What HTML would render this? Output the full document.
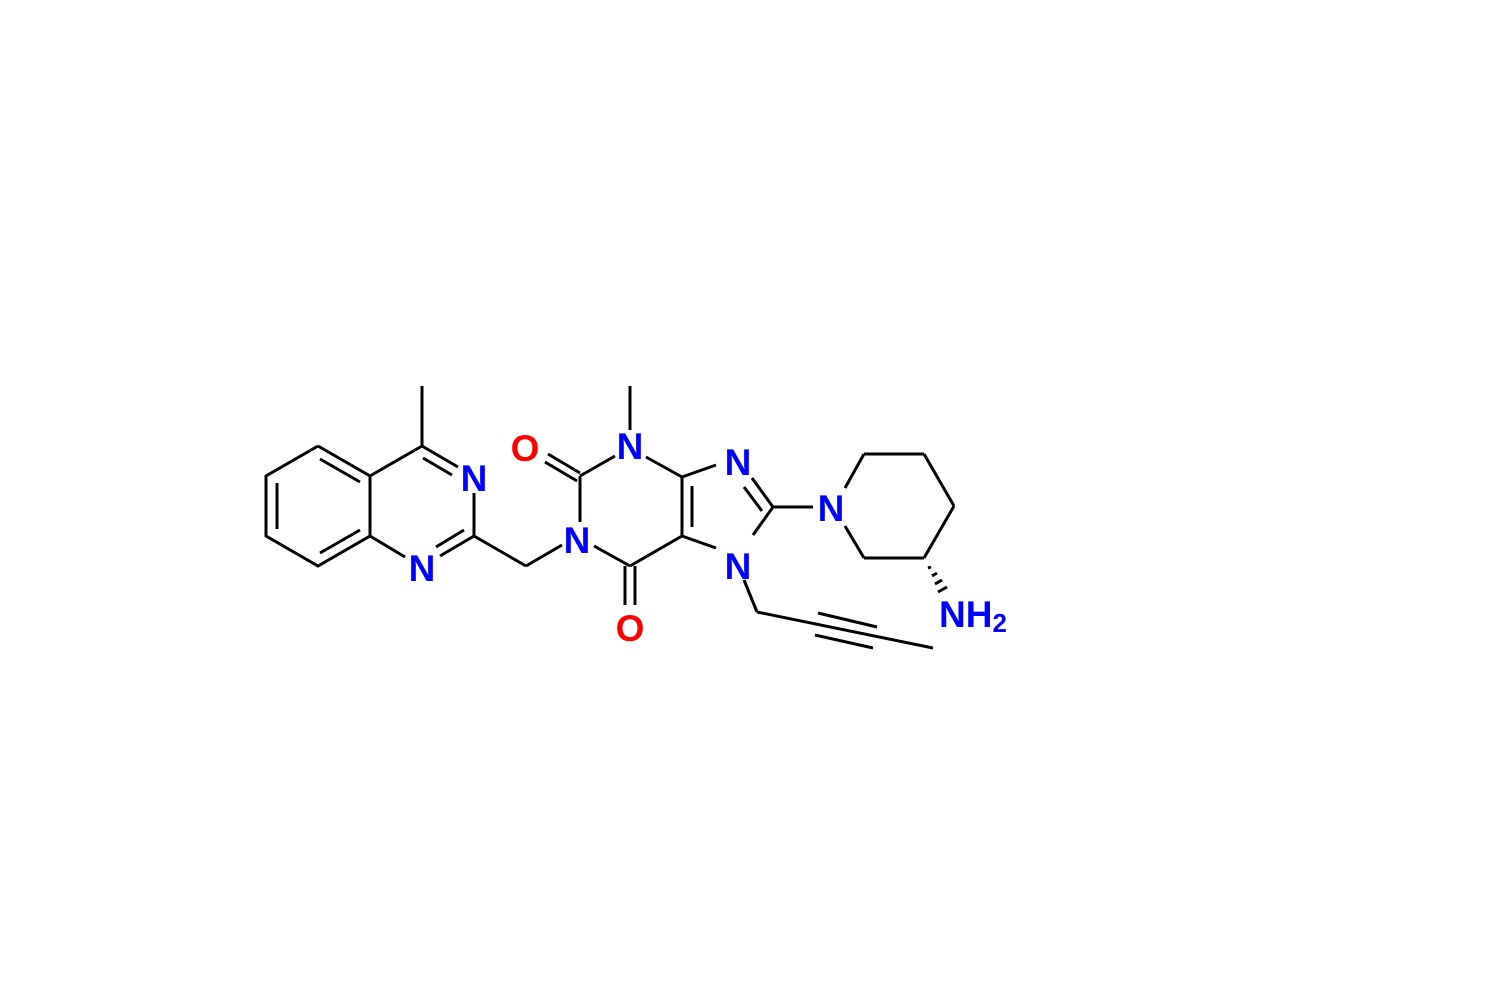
<!DOCTYPE html>
<html><head><meta charset="utf-8"><style>html,body{margin:0;padding:0;background:#fff}svg{display:block}
.t{font-family:"Liberation Sans",Arial,sans-serif;font-weight:bold;font-size:37px;text-anchor:middle}</style></head>
<body>
<svg width="1489" height="998" viewBox="0 0 1489 998" xmlns="http://www.w3.org/2000/svg">
<g stroke="#000" stroke-width="3" fill="none" stroke-linecap="butt">
<polyline points="318,446 370,476 370,536 318,566 266,536 266,476 318,446"/>
<line x1="277" y1="483" x2="277" y2="529"/>
<line x1="320" y1="459" x2="360" y2="482"/>
<line x1="320" y1="553" x2="360" y2="530"/>
<line x1="370" y1="476" x2="422" y2="446"/>
<line x1="422" y1="446" x2="458" y2="467"/>
<line x1="423" y1="458" x2="452" y2="475"/>
<line x1="474" y1="493" x2="474" y2="536"/>
<line x1="474" y1="536" x2="440" y2="556"/>
<line x1="464" y1="530" x2="436" y2="547"/>
<line x1="370" y1="536" x2="405" y2="557"/>
<line x1="422" y1="446" x2="422" y2="386"/>
<line x1="474" y1="536" x2="526" y2="566"/>
<line x1="526" y1="566" x2="562" y2="545"/>
<line x1="580" y1="522" x2="580" y2="476"/>
<line x1="580" y1="476" x2="615" y2="456"/>
<line x1="580" y1="473" x2="548" y2="454"/>
<line x1="577" y1="481" x2="545" y2="462"/>
<line x1="630" y1="430" x2="630" y2="386"/>
<line x1="646" y1="457" x2="682" y2="477"/>
<line x1="682" y1="477" x2="682" y2="536"/>
<line x1="692" y1="486" x2="692" y2="527"/>
<line x1="682" y1="536" x2="630" y2="566"/>
<line x1="630" y1="566" x2="594" y2="546"/>
<line x1="625" y1="566" x2="625" y2="605"/>
<line x1="635" y1="566" x2="635" y2="605"/>
<line x1="682" y1="477" x2="716" y2="465"/>
<line x1="682" y1="536" x2="716" y2="548"/>
<line x1="752" y1="478" x2="773" y2="507"/>
<line x1="744" y1="487" x2="762" y2="511"/>
<line x1="773" y1="507" x2="753" y2="535"/>
<line x1="773" y1="507" x2="813" y2="507"/>
<line x1="744" y1="580" x2="757" y2="612"/>
<line x1="757" y1="612" x2="933" y2="648"/>
<line x1="818" y1="613" x2="877" y2="627"/>
<line x1="815" y1="635" x2="873" y2="648"/>
<line x1="845" y1="488" x2="864" y2="454"/>
<line x1="864" y1="454" x2="924" y2="454"/>
<line x1="924" y1="454" x2="954" y2="506"/>
<line x1="954" y1="506" x2="924" y2="558"/>
<line x1="924" y1="558" x2="864" y2="558"/>
<line x1="864" y1="558" x2="845" y2="526"/>
<line x1="928" y1="568" x2="931" y2="567"/>
<line x1="932" y1="576" x2="937" y2="573"/>
<line x1="935" y1="584" x2="942" y2="580"/>
<line x1="938" y1="592" x2="947" y2="587"/>
</g>
<g class="t">
<text x="474" y="491" fill="#0000ff">N</text>
<text x="422" y="581" fill="#0000ff">N</text>
<text x="577" y="553" fill="#0000ff">N</text>
<text x="630" y="459" fill="#0000ff">N</text>
<text x="738" y="475" fill="#0000ff">N</text>
<text x="738" y="579" fill="#0000ff">N</text>
<text x="831" y="521" fill="#0000ff">N</text>
<text x="525" y="461" fill="#ff0000">O</text>
<text x="630" y="641" fill="#ff0000">O</text>
<text x="939" y="627" fill="#0000ff" style="text-anchor:start">NH<tspan font-size="26" dy="5">2</tspan></text>
</g>
</svg>
</body></html>
